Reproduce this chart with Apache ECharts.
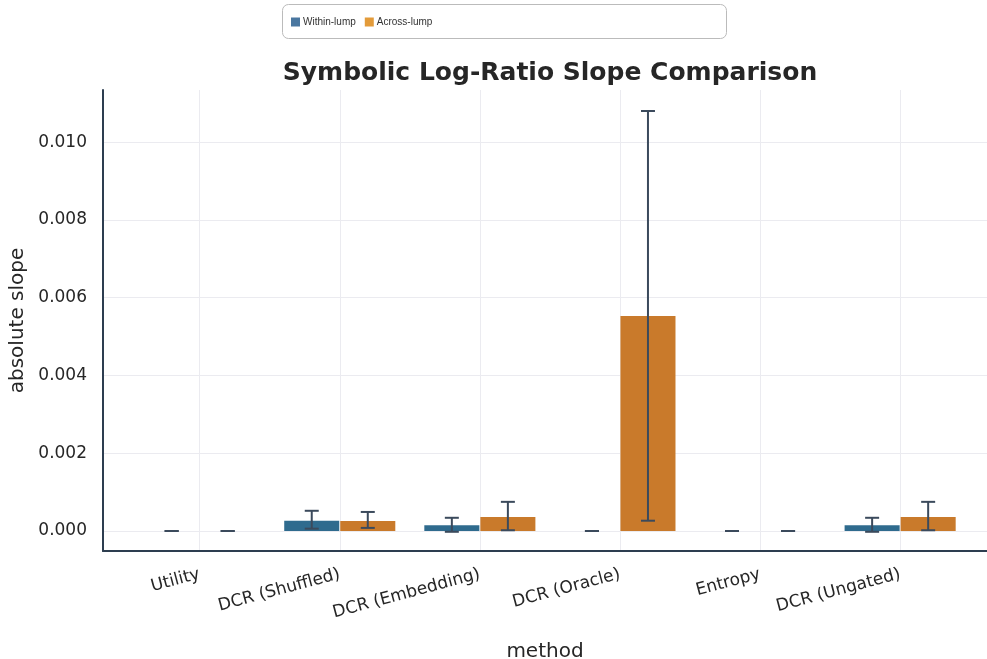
<!DOCTYPE html>
<html>
<head>
<meta charset="utf-8">
<script src="https://cdn.jsdelivr.net/npm/echarts@6/dist/echarts.min.js"></script>
<style>html,body{margin:0;padding:0;background:#fff;}#c{width:987px;height:659px;}</style>
</head>
<body>
<div id="c"></div>
<script>
const categories = ['Utility', 'DCR (Shuffled)', 'DCR (Embedding)', 'DCR (Oracle)', 'Entropy', 'DCR (Ungated)'];
const withinMean = [0, 0.000265, 0.000146, 0, 0, 0.000146];
const withinLow  = [0, 0.00006, -0.00002, 0, 0, -0.00002];
const withinHigh = [0, 0.00052, 0.00034, 0, 0, 0.00034];
const acrossMean = [0, 0.000257, 0.00036, 0.00553, 0, 0.00036];
const acrossLow  = [0, 0.00008, 0.00002, 0.000265, 0, 0.00002];
const acrossHigh = [0, 0.00049, 0.00075, 0.0108, 0, 0.00075];
const yTicks = [0, 0.002, 0.004, 0.006, 0.008, 0.010];

const WITHIN_COLOR = '#2f6b8e';
const ACROSS_COLOR = '#c97a2b';
const ERR_COLOR = '#3b4a5c';

function barSeries(name, means, side, color) {
  return {
    type: 'custom', name: name,
    data: means.map((v, i) => [i, v]),
    renderItem: function (params, api) {
      const i = api.value(0), v = api.value(1);
      const x0 = side < 0 ? i - 0.4 : i;
      const x1 = side < 0 ? i : i + 0.4;
      const p0 = api.coord([x0, 0]);
      const p1 = api.coord([x1, v]);
      return {
        type: 'rect',
        shape: {x: p0[0] + 0.5, y: Math.min(p0[1], p1[1]), width: p1[0] - p0[0] - 1, height: Math.abs(p0[1] - p1[1])},
        style: {fill: color}
      };
    },
    z: 2
  };
}

function errSeries(name, lows, highs, side) {
  return {
    type: 'custom', name: name + ' err',
    data: lows.map((v, i) => [i + side * 0.2, v, highs[i]]),
    renderItem: function (params, api) {
      const x = api.value(0);
      const lo = api.coord([x, api.value(1)]);
      const hi = api.coord([x, api.value(2)]);
      const half = 7;
      const st = {stroke: ERR_COLOR, lineWidth: 2};
      return {
        type: 'group',
        children: [
          {type: 'line', shape: {x1: lo[0], y1: lo[1], x2: hi[0], y2: hi[1]}, style: st},
          {type: 'line', shape: {x1: lo[0] - half, y1: lo[1], x2: lo[0] + half, y2: lo[1]}, style: st},
          {type: 'line', shape: {x1: hi[0] - half, y1: hi[1], x2: hi[0] + half, y2: hi[1]}, style: st}
        ]
      };
    },
    z: 3
  };
}

const chart = echarts.init(document.getElementById('c'), null, {renderer: 'canvas'});
chart.setOption({
  animation: false,
  backgroundColor: '#fff',
  title: {
    text: 'Symbolic Log-Ratio Slope Comparison',
    left: 545, top: 56, textAlign: 'center',
    textStyle: {fontFamily: 'DejaVu Sans', fontWeight: 'bold', fontSize: 25, color: '#262626'}
  },
  graphic: [{
    type: 'rect', left: 282, top: 4, z: -1,
    shape: {width: 444, height: 34, r: 6},
    style: {fill: '#fff', stroke: '#bbbbbb', lineWidth: 1}
  }],
  legend: {
    left: 286, top: 12, itemWidth: 9, itemHeight: 9, itemGap: 9,
    icon: 'rect',
    textStyle: {fontFamily: 'Liberation Sans', fontSize: 10, color: '#333', padding: [0, 0, 0, -2]},
    data: [
      {name: 'Within-lump', itemStyle: {color: '#4a77a0'}},
      {name: 'Across-lump', itemStyle: {color: '#e39b3a'}}
    ]
  },
  grid: {left: 103, right: 0, top: 90, bottom: 108, containLabel: false, outerBoundsMode: 'none'},
  xAxis: {
    type: 'value', min: -0.69, max: 5.62,
    name: 'method', nameLocation: 'middle', nameGap: 91,
    nameTextStyle: {fontFamily: 'DejaVu Sans', fontSize: 20, color: '#262626'},
    axisLine: {show: true, onZero: false, lineStyle: {color: '#2d3e50', width: 2}},
    axisTick: {show: false, customValues: [0, 1, 2, 3, 4, 5]},
    axisLabel: {
      customValues: [0, 1, 2, 3, 4, 5],
      formatter: v => categories[Math.round(v)],
      rotate: 15, margin: 23,
      fontFamily: 'DejaVu Sans', fontSize: 17, color: '#262626'
    },
    splitLine: {show: true, lineStyle: {color: '#ebebf0', width: 1}}
  },
  yAxis: {
    type: 'value', min: -0.000514, max: 0.01134,
    name: 'absolute slope', nameLocation: 'middle', nameGap: 72,
    nameTextStyle: {fontFamily: 'DejaVu Sans', fontSize: 20, color: '#262626'},
    axisLine: {show: true, onZero: false, lineStyle: {color: '#2d3e50', width: 2}},
    axisTick: {show: false, customValues: yTicks},
    axisLabel: {
      customValues: yTicks,
      formatter: v => v.toFixed(3), margin: 16,
      fontFamily: 'DejaVu Sans', fontSize: 17, color: '#262626'
    },
    splitLine: {show: true, lineStyle: {color: '#ebebf0', width: 1}}
  },
  series: [
    barSeries('Within-lump', withinMean, -1, WITHIN_COLOR),
    barSeries('Across-lump', acrossMean, 1, ACROSS_COLOR),
    errSeries('Within-lump', withinLow, withinHigh, -1),
    errSeries('Across-lump', acrossLow, acrossHigh, 1)
  ]
});
</script>
</body>
</html>
